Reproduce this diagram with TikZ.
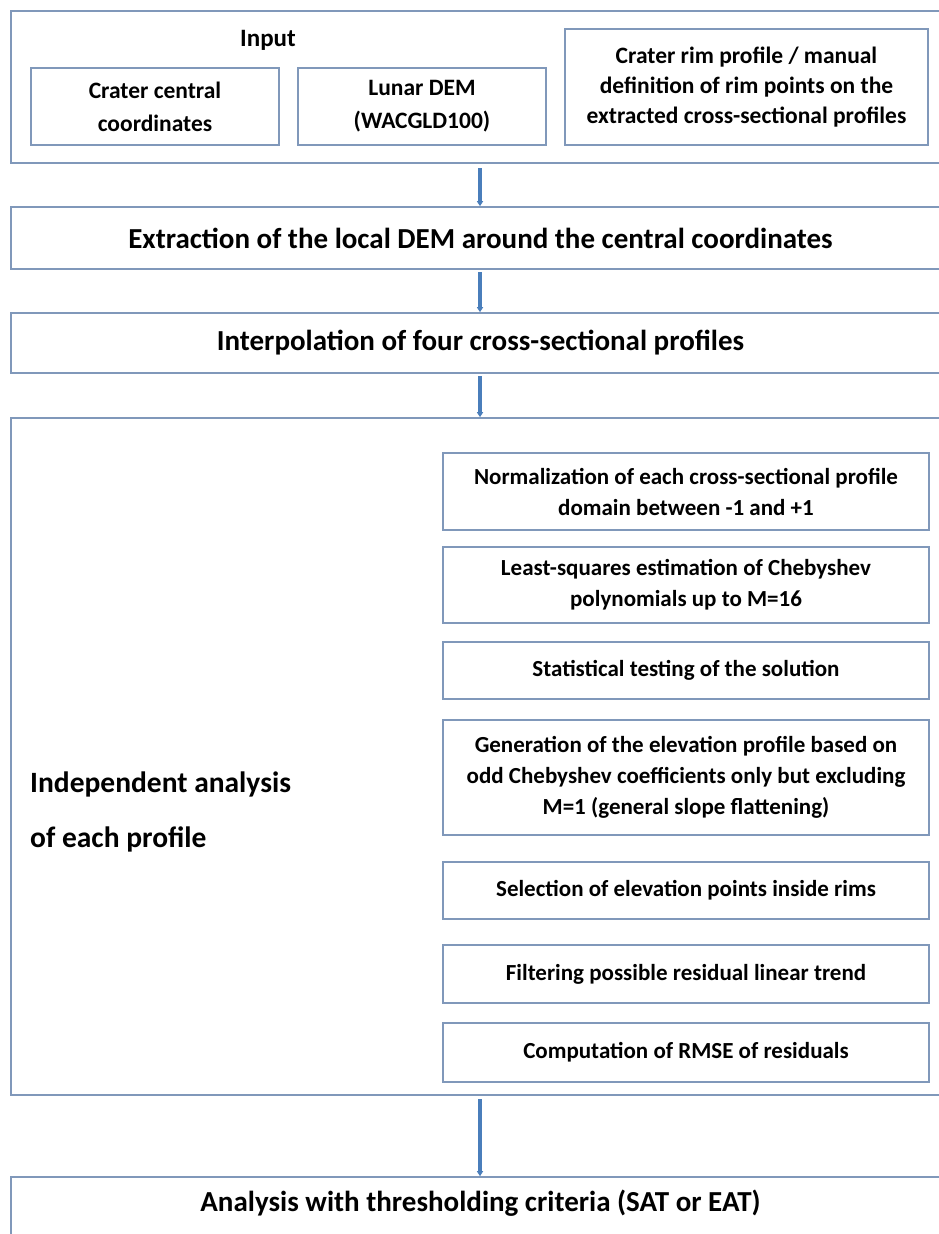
\documentclass[tikz,border=0pt]{standalone}
\usepackage{fontspec}
\setmainfont{Carlito}
\usetikzlibrary{arrows.meta}
\definecolor{bordercol}{RGB}{128,152,186}
\definecolor{arrowcol}{RGB}{74,126,187}
\tikzset{
  box/.style={draw=bordercol, line width=1.6pt, fill=white, align=center, inner sep=0pt},
  outerbox/.style={draw=bordercol, line width=1.6pt, inner sep=0pt},
  smalltxt/.style={font=\bfseries\fontsize{23.5}{33}\selectfont},
  coltxt/.style={font=\bfseries\fontsize{23}{31}\selectfont},
  maintxt/.style={font=\bfseries\fontsize{29}{32}\selectfont},
  flowarrow/.style={draw=arrowcol, line width=3.6pt, -{Triangle[length=5pt,width=6pt]}},
}
\begin{document}
\begin{tikzpicture}[x=1pt,y=-1pt]
\useasboundingbox[fill=white] (0,0) rectangle (939,1234);
% Input block
\node[outerbox, minimum width=939pt, minimum height=152pt] (inputbox) at (480.5,87) {};
\node[font=\bfseries\fontsize{25}{28}\selectfont] (inlabel) at (268,40) {Input};
\node[box, smalltxt, minimum width=248pt, minimum height=77pt] (b1) at (155,106.5) {Crater central\\coordinates};
\node[box, smalltxt, minimum width=248pt, minimum height=77pt] (b2) at (422,106.5) {Lunar DEM\\(WACGLD100)};
\node[box, font=\bfseries\fontsize{23.5}{30}\selectfont, minimum width=363pt, minimum height=116pt] (b3) at (746.5,87) {Crater rim profile / manual\\definition of rim points on the\\extracted cross-sectional profiles};
% Extraction
\node[box, maintxt, minimum width=939pt, minimum height=62pt] (extr) at (480.5,238) {Extraction of the local DEM around the central coordinates};
% Interpolation
\node[box, maintxt, minimum width=939pt, minimum height=60pt] (interp) at (480.5,343) {Interpolation of four cross-sectional profiles};
% Big box
\node[outerbox, minimum width=939pt, minimum height=677pt] (big) at (480.5,756.5) {};
\node[font=\bfseries\fontsize{29.5}{55}\selectfont, align=left, anchor=west, inner sep=0pt] (indep) at (30,812) {Independent analysis\\of each profile};
\node[box, coltxt, minimum width=486pt, minimum height=77pt] (c1) at (686,491.5) {Normalization of each cross-sectional profile\\domain between -1 and +1};
\node[box, coltxt, minimum width=486pt, minimum height=76pt] (c2) at (686,585) {Least-squares estimation of Chebyshev\\polynomials up to M=16};
\node[box, coltxt, minimum width=486pt, minimum height=57pt] (c3) at (686,670.5) {Statistical testing of the solution};
\node[box, coltxt, minimum width=486pt, minimum height=115pt] (c4) at (686,777.5) {Generation of the elevation profile based on\\odd Chebyshev coefficients only but excluding\\M=1 (general slope flattening)};
\node[box, coltxt, minimum width=486pt, minimum height=57pt] (c5) at (686,890.5) {Selection of elevation points inside rims};
\node[box, coltxt, minimum width=486pt, minimum height=58pt] (c6) at (686,974) {Filtering possible residual linear trend};
\node[box, coltxt, minimum width=486pt, minimum height=59pt] (c7) at (686,1052.5) {Computation of RMSE of residuals};
% Final
\node[box, maintxt, minimum width=939pt, minimum height=70pt] (final) at (480.5,1212) {};
\node[maintxt] (finaltxt) at (480.5,1203) {Analysis with thresholding criteria (SAT or EAT)};
% Arrows
\coordinate (a1s) at (480,168);
\coordinate (a2s) at (480,272);
\coordinate (a3s) at (480,376);
\coordinate (a4s) at (480,1099);
\draw[flowarrow] (a1s) -- (a1s |- extr.north);
\draw[flowarrow] (a2s) -- (a2s |- interp.north);
\draw[flowarrow] (a3s) -- (a3s |- big.north);
\draw[flowarrow] (a4s) -- (a4s |- final.north);
\end{tikzpicture}
\end{document}
